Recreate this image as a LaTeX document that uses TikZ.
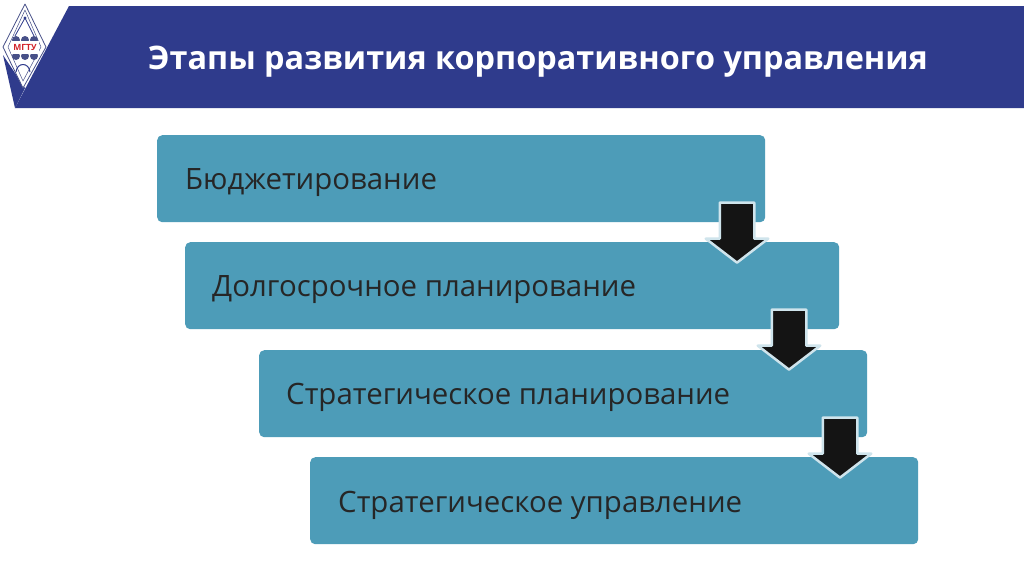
\documentclass[tikz,border=0pt]{standalone}
\usepackage{fontspec}
\setmainfont{Open Sans}
\usetikzlibrary{shapes.arrows}
\definecolor{bannerblue}{HTML}{2F3B8C}
\definecolor{boxteal}{HTML}{4D9CB8}
\definecolor{arrowedge}{HTML}{CFE4EC}
\definecolor{logored}{HTML}{D2232A}
\tikzset{
  stagebox/.style={draw=none, fill=boxteal, rounded corners=5pt, anchor=north west, minimum height=87pt, inner sep=0pt},
  stagetext/.style={anchor=west, inner sep=0pt, font=\fontsize{29.4}{32}\selectfont, text=black!85},
  downarrow/.style={shape=single arrow, rotate=-90, fill=black!92, draw=arrowedge, line width=2.5pt,
    minimum height=60pt, inner xsep=0pt, inner ysep=16pt, single arrow head extend=14pt, single arrow tip angle=105},
}
\begin{document}
\begin{tikzpicture}[x=1pt, y=-1pt, line join=round]
  \useasboundingbox (0, 0) rectangle (1024, 574);
  \fill[white] (0, 0) rectangle (1024, 574);

  % Banner and title
  \fill[bannerblue] (15, 108) -- (69, 6) -- (1024, 6) -- (1024, 108) -- cycle;
  \fill[bannerblue] (3, 55) -- (15, 108) -- (25, 88) -- cycle;
  \node[anchor=west, inner sep=0pt, text=white, font=\fontsize{32.4}{36}\selectfont\bfseries] (title) at (148, 62) {Этапы развития корпоративного управления};

  % Logo
  \draw[bannerblue!70!gray, line width=0.8pt, fill=white] (25, 4) -- (46, 47) -- (23, 88) -- (3, 47) -- cycle;
  \draw[bannerblue!70!gray, line width=0.5pt] (25, 10) -- (41, 47) -- (23, 81) -- (8, 47) -- cycle;
  \draw[bannerblue, line width=0.8pt] (15, 36) -- (25, 18) -- (34, 36);
  \fill[bannerblue] (25, 18) circle (1.6pt);
  \foreach \x in {16, 25, 34} {
    \fill[bannerblue!70!gray] (\x, 40) circle (4pt);
    \fill[bannerblue!70!gray] (\x, 56) circle (4pt);
  }
  \fill[white] (11, 41) rectangle (39, 54);
  \node[text=logored, font=\fontsize{8.5}{9}\selectfont\bfseries, inner sep=0pt] (logotext) at (25, 47.5) {МГТУ};
  \draw[bannerblue, line width=1pt] (16, 72) .. controls (17, 62) and (29, 62) .. (30, 72);

  % Stages
  \node[stagebox, minimum width=608pt] (budget) at (157, 135) {};
  \node[stagebox, minimum width=654pt] (longterm) at (185, 242) {};
  \node[stagebox, minimum width=608pt] (stratplan) at (259, 350) {};
  \node[stagebox, minimum width=608pt] (stratman) at (310, 457) {};

  \node[stagetext] at (185, 183) {Бюджетирование};
  \node[stagetext] at (212, 290) {Долгосрочное планирование};
  \node[stagetext] at (286, 397) {Стратегическое планирование};
  \node[stagetext] at (338, 505) {Стратегическое управление};

  % Arrows between stages
  \node[downarrow] (arrowa) at (737, 226) {};
  \node[downarrow] (arrowb) at (789, 333) {};
  \node[downarrow] (arrowc) at (840, 441) {};
\end{tikzpicture}
\end{document}
